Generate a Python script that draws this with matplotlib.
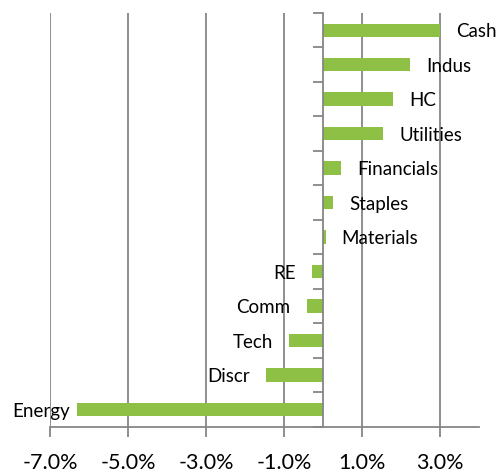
import numpy as np
import matplotlib
matplotlib.use("Agg")
import matplotlib.pyplot as plt

# sectors from bottom to top
sectors = ["Energy", "Discr", "Tech", "Comm", "RE", "Materials",
           "Staples", "Financials", "Utilities", "HC", "Indus", "Cash"]
values = [-6.32, -1.46, -0.87, -0.42, -0.28, 0.07,
          0.26, 0.46, 1.54, 1.80, 2.23, 3.00]
xticks = [-7, -5, -3, -1, 1, 3]

plt.rcParams['font.family'] = ['Lato', 'DejaVu Sans']

fig = plt.figure(figsize=(4.96, 4.73), dpi=100)
ax = fig.add_axes([50 / 496, (473 - 426.7) / 473, 429 / 496, (426.7 - 13) / 473])

grey = '#868686'
green = '#8DC045'

y = np.arange(len(sectors))
ax.barh(y, values, height=0.39, color=green, zorder=3)

ax.set_xlim(-7, 4)
ax.set_ylim(-0.5, len(sectors) - 0.5)

# gridlines at tick positions
for t in xticks:
    ax.axvline(t, color=grey, lw=1.3, zorder=1)

ax.set_xticks(xticks)
ax.set_xticklabels([f"{t:.1f}%" for t in xticks], fontsize=15.5)
ax.tick_params(axis='x', direction='out', length=7, width=1.3, color=grey, pad=12)

# category axis at zero with boundary ticks
ax.spines['left'].set_position(('data', 0))
ax.spines['left'].set_color(grey)
ax.spines['left'].set_linewidth(1.3)
ax.spines['left'].set_zorder(4)
ax.set_yticks(np.arange(len(sectors) + 1) - 0.5)
ax.set_yticklabels([])
ax.tick_params(axis='y', direction='out', length=7, width=1.3, color=grey)

ax.spines['bottom'].set_color(grey)
ax.spines['bottom'].set_linewidth(1.3)
ax.spines['top'].set_visible(False)
ax.spines['right'].set_visible(False)

# labels next to bar ends (Energy is squeezed against the left edge)
for yi, v, name in zip(y, values, sectors):
    off = 0.18 if name == "Energy" else 0.41
    if v >= 0:
        ax.text(v + off, yi - 0.05, name, ha='left', va='center', fontsize=13.5, zorder=5)
    else:
        ax.text(v - off, yi - 0.05, name, ha='right', va='center', fontsize=13.5, zorder=5)

fig.savefig("out.png", dpi=100)
